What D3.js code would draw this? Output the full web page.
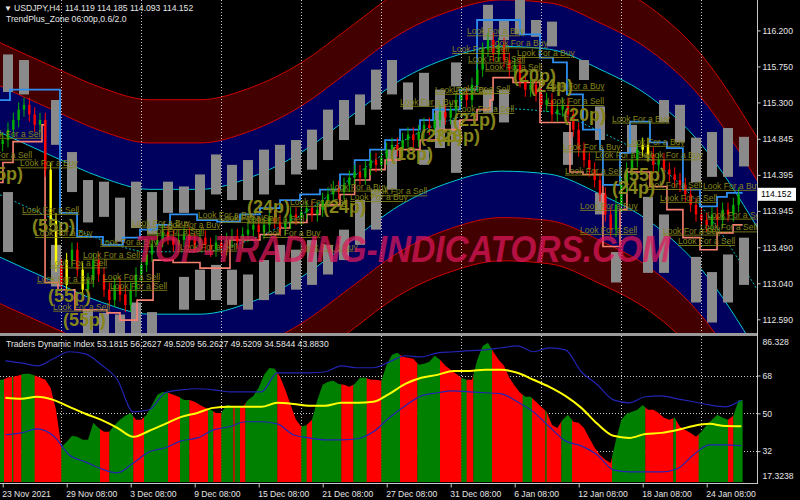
<!DOCTYPE html>
<html>
<head>
<meta charset="utf-8">
<script src="https://cdn.jsdelivr.net/npm/d3@7"></script>
<style>
  body { margin: 0; background: #000; }
  svg { display: block; }
  text { font-family: "Liberation Sans", Arial, sans-serif; }
</style>
</head>
<body>
<script>
// ---------- price panel data (USDJPY H4), one close per 2 bars ----------
const closes = [114.83, 114.96, 115.08, 115.21, 115.27, 115.15, 115.02, 115.08, 114.46, 113.83,
  113.27, 113.02, 113.33, 113.46, 113.21, 112.96, 113.08, 113.33, 113.15, 112.96,
  112.83, 113.02, 112.90, 112.77, 112.96, 113.15, 113.27, 113.40, 113.52, 113.58,
  113.68, 113.61, 113.52, 113.58, 113.65, 113.58, 113.52, 113.61, 113.52, 113.46,
  113.55, 113.48, 113.58, 113.63, 113.56, 113.65, 113.71, 113.77, 113.68, 113.77,
  113.86, 113.81, 113.73, 113.81, 113.90, 113.86, 113.93, 113.98, 113.90, 113.96,
  114.08, 114.15, 114.23, 114.18, 114.27, 114.36, 114.43, 114.36, 114.48, 114.58,
  114.52, 114.61, 114.71, 114.77, 114.71, 114.83, 114.90, 114.83, 114.93, 115.02,
  114.98, 115.08, 115.18, 115.11, 115.21, 115.33, 115.40, 115.33, 115.52, 115.71,
  115.96, 116.08, 115.90, 116.02, 115.83, 115.71, 115.77, 115.58, 115.46, 115.52,
  115.40, 115.27, 115.33, 115.15, 115.21, 115.27, 115.15, 114.96, 114.71, 114.58,
  114.46, 114.33, 114.15, 113.90, 113.71, 114.02, 114.27, 114.46, 114.58, 114.71,
  114.77, 114.65, 114.52, 114.58, 114.46, 114.40, 114.33, 114.27, 114.15, 114.02,
  113.90, 113.83, 113.77, 113.90, 113.83, 113.96, 113.90, 114.02, 114.15];
const yellowCandles = [9, 10, 12, 15, 120, 121];

// trailing step lines: bar where a level starts, and its price
const blueStart = [-1, 2.75, 21.5, 27.9, 37.6, 45.1, 51.5, 57.9, 62.75, 72.9, 80.4, 89, 96.5, 104, 111.5, 119, 126.5, 132, 137.75, 143.4, 149, 156.5, 161.4, 171.5, 177.9, 194, 201.5, 206.4, 211.6, 217.6, 224, 225.1, 231.5, 235.25, 242.75, 249.1, 255.1, 261.5, 267.9, 271.6];
const blueLevel = [115.33, 115.46, 113.92, 113.62, 113.52, 113.61, 113.71, 113.77, 113.90, 113.83, 113.81, 113.90, 113.98, 114.08, 114.15, 114.21, 114.40, 114.58, 114.71, 114.83, 114.96, 115.08, 115.21, 115.46, 116.33, 116.15, 115.86, 115.80, 115.40, 114.96, 114.71, 114.27, 114.67, 115.06, 114.80, 114.73, 114.21, 114.00, 114.12, 114.17];
const salmonStart = [-1, 0.1, 3.9, 14.75, 15.9, 20.75, 27.1, 39.1, 44, 50.4, 56.4, 63.9, 74, 85.25, 96.5, 104, 107.75, 114.1, 119, 126.5, 132, 137.75, 143.4, 149, 156.5, 164, 171.5, 177.9, 182.75, 183.9, 191.4, 201.5, 212.75, 217.6, 225.1, 231.5, 234.1, 242.75, 249.1, 255.1, 261.5, 267.9, 273.9];
const salmonLevel = [114.30, 114.55, 114.81, 115.02, 113.05, 112.96, 112.71, 112.67, 112.58, 112.83, 113.33, 113.30, 113.23, 113.58, 113.65, 113.73, 113.80, 113.90, 114.02, 114.15, 114.33, 114.46, 114.58, 114.71, 114.83, 114.96, 115.08, 115.21, 115.33, 115.61, 115.55, 115.05, 114.43, 114.40, 113.50, 113.96, 114.43, 114.25, 113.96, 113.61, 113.46, 113.67, 113.77];

// zone channel: mid line sampled at bars, band half-widths in price
const bandBars = [-1, 18, 37, 55, 74, 93, 112, 130, 149, 168, 187, 205, 224, 243, 262, 283];
const bandMid = [114.146, 113.859, 113.584, 113.434, 113.434, 113.584, 113.896, 114.334, 114.796, 115.084, 115.221, 115.184, 114.934, 114.584, 113.996, 112.959];
const cyanOffset = 0.78;
const innerOffset = 1.36;
const outerOffset = 1.90;

// gray zone boxes per day column k: [k, high, low]
const upperBoxes = [[0,115.90,115.43],[1,115.83,115.40],[3,115.33,114.77],[4,114.68,114.18],[5,114.33,113.80],
  [6,114.31,113.87],[7,114.11,113.56],[8,114.31,113.73],[9,114.18,113.65],[10,114.31,113.92],[11,114.25,113.92],
  [12,114.40,113.96],[13,114.65,114.15],[14,114.52,114.08],[15,114.58,114.08],[16,114.71,114.15],[17,114.77,114.27],
  [18,114.83,114.40],[19,114.96,114.46],[20,115.21,114.58],[21,115.33,114.83],[22,115.40,115.02],[23,115.71,115.21],
  [24,115.83,115.40],[25,115.55,115.21],[26,115.67,115.25],[27,115.46,115.08],[28,115.80,115.50],[30,116.52,116.08],
  [31,116.33,116.08],[32,116.58,116.15],[33,116.33,116.12],[34,116.31,116.00],[36,115.83,115.58],[37,115.25,114.83],
  [39,115.02,114.67],[41,115.33,115.05],[42,115.27,114.80],[43,114.86,114.30],[44,114.93,114.37],[45,114.98,114.37],[46,114.87,114.50]];
const lowerBoxes = [[0,114.18,113.43],[3,113.52,113.00],[5,112.71,112.33],[6,112.67,112.33],[7,112.65,112.33],
  [8,112.80,112.33],[9,112.68,112.33],[11,113.12,112.71],[12,113.21,112.83],[13,113.27,112.83],[14,113.21,112.77],
  [15,113.15,112.71],[16,113.33,112.83],[17,113.52,112.90],[18,113.46,112.96],[19,113.58,113.02],[20,113.52,113.15],
  [21,113.71,113.33],[22,114.08,113.52],[23,114.21,113.71],[24,114.71,114.21],[26,114.71,114.52],[27,115.12,114.73],
  [28,115.08,114.42],[30,115.46,115.17],[31,115.46,115.05],[35,114.93,114.52],[37,114.17,113.90],[38,113.43,113.05],
  [40,114.12,113.17],[41,113.90,113.17],[43,113.37,112.80],[44,113.18,112.55],[45,113.40,112.80],[46,113.61,113.02]];

// signal labels: [bar, price, text]
const signals = [
  [-6.6,114.87,"Look For a Sell"],[-10.4,114.60,"Look For a Sell"],[6.5,114.50,"Look For a Buy"],[-8.5,114.33,"(55p)"],
  [7.25,113.92,"Look For a Sell"],[11,113.68,"(55p)"],[12.1,113.63,"Look For a Buy"],[36.5,113.52,"Look For a Buy"],
  [30.1,113.36,"Look For a Sell"],[17.75,113.25,"Look For a Sell"],[12.9,113.06,"Look For a Sell"],[37.6,113.08,"Look For a Sell"],
  [40.25,112.97,"Look For a Sell"],[17,112.81,"(55p)"],[18.9,112.71,"Look For a Sell"],[22.6,112.50,"(55p)"],
  [48.5,113.76,"Look For a Buy"],[54.1,113.66,"Look For a Sell"],[60.1,113.73,"Look For a Buy"],[73.25,113.86,"Look For a Buy"],
  [81.5,113.82,"Look For a Sell"],[91.6,113.81,"Look For a Sell"],[91.6,113.92,"(24p)"],[97.6,113.63,"Look For a Buy"],
  [120.1,113.92,"(24p)"],[107.75,114.02,"Look For a Sell"],[122.75,114.21,"Look For a Buy"],[66.5,113.46,"Look For a Sell"],
  [149,115.27,"Look For a Buy"],[170.4,115.18,"Look For a Sell"],[162.1,115.42,"Look For a Buy"],[168.9,115.43,"Look For a Sell"],
  [168.9,115.00,"(21p)"],[156.5,114.80,"(23p)"],[162.9,114.80,"(26p)"],[145.25,114.58,"(18p)"],
  [174.1,116.15,"Look For a Buy"],[168.5,115.93,"Look For a Sell"],[174.5,115.81,"Look For a Sell"],[180.9,115.71,"Look For a Sell"],
  [182.75,116.00,"Look For a Buy"],[192.9,115.88,"Look For a Buy"],[191.4,115.56,"(20p)"],[197.75,115.43,"(24p)"],
  [204.1,115.47,"Look For a Buy"],[204.1,115.28,"Look For a Sell"],[210.1,115.07,"(20p)"],[228.5,115.06,"Look For a Buy"],
  [210.1,114.70,"Look For a Buy"],[234.1,114.77,"Look For a Buy"],[222.1,114.60,"Look For a Sell"],[240.9,114.60,"Look For a Buy"],
  [210.9,114.41,"Look For a Sell"],[232.6,114.32,"(55p)"],[228.5,114.16,"(24p)"],[240.9,114.23,"Look For a Sell"],
  [262.6,114.22,"Look For a Buy"],[246.5,114.07,"Look For a Sell"],[264.1,113.86,"Look For a Sell"],[216.5,113.97,"Look For a Buy"],
  [216.5,113.67,"Look For a Sell"],[247.6,113.66,"Look For a Sell"],[253.25,113.53,"Look For a Sell"],[261.5,113.70,"Look For a Sell"],
  [111.5,113.46,"Look For a Buy"],[137.75,114.15,"Look For a Sell"],[130.25,114.08,"Look For a Buy"]];

// ---------- Traders Dynamic Index data ----------
const tdiHist = [66, 67, 67.4, 68, 68.8, 68.8, 68, 67, 66, 62,
  51.7, 34, 36.4, 39.3, 38.8, 37.4, 37.4, 45.5, 43, 41.2,
  41.2, 44.5, 47, 48.8, 50.2, 47, 47, 49.3, 54, 58.8,
  60.2, 59.8, 58.8, 57.9, 56.4, 56.4, 55.5, 54, 52.6, 51.7,
  50.2, 50.2, 54, 53.5, 53, 53, 56.4, 58.3, 62.2, 68.3,
  71.6, 71.2, 67.4, 61.2, 54, 47, 43.6, 44.5, 47, 56.4,
  63.6, 65, 65.5, 64, 63.6, 62.6, 64, 66.9, 66.9, 66,
  66, 65.5, 73.1, 77.9, 78.8, 76.9, 76.4, 76, 73.1, 73.6,
  74.5, 77.4, 75.5, 72.6, 70.7, 68.8, 66.9, 66, 66, 75.5,
  82.1, 83.6, 79.3, 75.5, 72.6, 66.9, 63.1, 59.8, 57.9, 57.9,
  55.5, 53, 50.7, 44.5, 43, 47, 49.3, 46, 45.5, 43,
  38.3, 33.6, 30.2, 27.9, 26.4, 37.4, 47, 49.8, 50.7, 51.7,
  54, 51.7, 51.7, 50.2, 47.9, 46.9, 47.9, 43.6, 42.1, 40.7,
  38.8, 41.2, 44.5, 46.9, 49.3, 47.9, 46.9, 48.8, 56.4];
// colour runs start bars, alternating green / red, last entry is the end
const tdiRuns = [-1, 0.5, 3.5, 4, 7, 12, 22, 36.5, 40, 49, 53, 62, 66.5, 70, 77, 79, 82, 86.5, 87, 89, 91, 103, 112, 114, 116, 127, 131.5, 136.5, 142, 149, 155.5, 164, 172, 174, 176.5, 183.5, 195, 198.5, 203.5, 204, 209.5, 213.5, 228.5, 241, 251.5, 252.5, 261, 272, 274, 277.5];
// lines sampled every 6 bars
const tdiSignal = [57.4, 56.9, 57.9, 56.4, 53.1, 49.8, 46.9, 43.1, 38.8, 41.7, 45.0, 48.3, 50.2, 52.6, 53.1, 53.1, 53.1, 55.0, 54.5, 53.6, 53.6, 55.0, 55.0, 55.5, 59.3, 64.0, 66.9, 68.3, 70.2, 70.2, 70.7, 70.7, 69.3, 66.0, 62.6, 58.3, 52.6, 45.0, 39.3, 38.3, 40.2, 40.7, 42.1, 44.0, 45.0, 44.0, 43.9];
const tdiUpper = [75.0, 74.0, 72.6, 76.0, 79.3, 78.3, 73.1, 66.0, 50.7, 51.7, 59.8, 61.2, 61.7, 61.2, 60.2, 60.2, 60.2, 69.3, 69.3, 69.3, 69.8, 72.6, 71.7, 71.7, 74.5, 77.4, 76.9, 78.8, 79.3, 79.8, 80.2, 81.2, 82.1, 79.3, 81.2, 80.2, 69.8, 63.6, 56.4, 55.0, 57.9, 58.3, 56.9, 55.5, 54.0, 53.1, 56.3];
const tdiLower = [39.8, 40.7, 42.6, 39.3, 30.2, 26.9, 23.6, 21.7, 26.4, 31.7, 33.6, 36.9, 38.3, 42.1, 43.6, 46.0, 46.0, 45.0, 39.8, 38.3, 37.4, 37.4, 37.9, 41.2, 47.9, 53.6, 58.3, 59.8, 60.7, 60.2, 59.8, 59.3, 55.5, 50.7, 43.6, 36.9, 34.5, 30.2, 23.1, 22.1, 22.1, 22.1, 23.6, 30.2, 35.0, 35.0, 34.6];

// ---------- axes ----------
const priceTicks = [116.200, 115.750, 115.300, 114.845, 114.395, 113.945, 113.490, 113.040, 112.590];
const tdiTicks = [86.328, 68, 50, 32, 17.3238];
const tdiTickText = ["86.328", "68", "50", "32", "17.3238"];
const dateBars = [0, 24, 48, 72, 96, 120, 144, 168, 192, 216, 240, 264];
const dateLabels = ["23 Nov 2021", "29 Nov 08:00", "3 Dec 08:00", "9 Dec 08:00", "15 Dec 08:00", "21 Dec 08:00",
  "27 Dec 08:00", "31 Dec 08:00", "6 Jan 08:00", "12 Jan 08:00", "18 Jan 08:00", "24 Jan 08:00"];
const gridBars = [22, 52, 82, 112, 142, 172, 202, 232, 262];
const lastPrice = 114.152;

// ---------- scales ----------
const plotW = 757;
const x = d3.scaleLinear().domain([-1, 283]).range([0, 757.33]);
const yP = d3.scaleLinear().domain([112.425, 116.58]).range([332.5, 0]);
const yT = d3.scaleLinear().domain([17.3238, 86.328]).range([482, 337]);

const svg = d3.select("body").append("svg").attr("width", 800).attr("height", 500);
svg.append("rect").attr("width", 800).attr("height", 500).attr("fill", "#000");

const defs = svg.append("defs");
defs.append("clipPath").attr("id", "clipMain").append("rect").attr("width", plotW).attr("height", 333);
defs.append("clipPath").attr("id", "clipTdi").append("rect").attr("y", 336).attr("width", plotW).attr("height", 147);

const main = svg.append("g").attr("clip-path", "url(#clipMain)");

// channel bands
const band = bandBars.map((b, i) => ({ b: b, m: bandMid[i] }));
function bandArea(a, c) {
  return d3.area().curve(d3.curveMonotoneX).x(d => x(d.b)).y0(d => yP(d.m + a)).y1(d => yP(d.m + c));
}
function bandLine(off) {
  return d3.line().curve(d3.curveMonotoneX).x(d => x(d.b)).y(d => yP(d.m + off));
}
main.append("path").datum(band).attr("d", bandArea(innerOffset, outerOffset)).attr("fill", "#430000");
main.append("path").datum(band).attr("d", bandArea(-innerOffset, -outerOffset)).attr("fill", "#430000");
main.append("path").datum(band).attr("d", bandArea(cyanOffset, innerOffset)).attr("fill", "#00005e");
main.append("path").datum(band).attr("d", bandArea(-cyanOffset, -innerOffset)).attr("fill", "#00005e");
[outerOffset, innerOffset, -innerOffset, -outerOffset].forEach(o => {
  main.append("path").datum(band).attr("d", bandLine(o)).attr("fill", "none").attr("stroke", "#d00000").attr("stroke-width", 1);
});
[cyanOffset, -cyanOffset].forEach(o => {
  main.append("path").datum(band).attr("d", bandLine(o)).attr("fill", "none").attr("stroke", "#00c8d8").attr("stroke-width", 1);
});
main.append("path").datum(band).attr("d", bandLine(0)).attr("fill", "none").attr("stroke", "#00b8c8")
  .attr("stroke-width", 1).attr("stroke-dasharray", "2,2");

// vertical grid
svg.append("g").selectAll("line").data(gridBars).enter().append("line")
  .attr("x1", d => Math.round(x(d)) + 0.5).attr("x2", d => Math.round(x(d)) + 0.5)
  .attr("y1", 0).attr("y2", 483)
  .attr("stroke", "#c8c8c8").attr("stroke-dasharray", "1,2");

// gray zone boxes
function drawBoxes(list) {
  main.append("g").selectAll("rect").data(list).enter().append("rect")
    .attr("x", d => x(6 * d[0] + 2) - 5)
    .attr("width", 10)
    .attr("y", d => yP(d[1]))
    .attr("height", d => yP(d[2]) - yP(d[1]))
    .attr("fill", "#8a8a8a");
}
drawBoxes(upperBoxes);
drawBoxes(lowerBoxes);

// step lines
function stepPoints(starts, levels) {
  const pts = starts.map((s, i) => [s, levels[i]]);
  pts.push([277.5, levels[levels.length - 1]]);
  return pts;
}
const stepLine = d3.line().curve(d3.curveStepAfter).x(d => x(d[0])).y(d => yP(d[1]));
main.append("path").datum(stepPoints(salmonStart, salmonLevel)).attr("d", stepLine)
  .attr("fill", "none").attr("stroke", "#fa8072").attr("stroke-width", 1.6);
main.append("path").datum(stepPoints(blueStart, blueLevel)).attr("d", stepLine)
  .attr("fill", "none").attr("stroke", "#2e8ff0").attr("stroke-width", 1.8);

// candles
const wick = 0.09;
const candles = closes.map((c, i) => {
  const o = i === 0 ? c - 0.05 : closes[i - 1];
  return { bar: 2 * i, o: o, c: c, h: Math.max(o, c) + wick, l: Math.min(o, c) - wick, i: i };
});
function candleColor(d) {
  if (yellowCandles.includes(d.i)) return "#ffff00";
  return d.c >= d.o ? "#00b000" : "#ff0000";
}
const cg = main.append("g");
cg.selectAll("line").data(candles).enter().append("line")
  .attr("x1", d => x(d.bar)).attr("x2", d => x(d.bar))
  .attr("y1", d => yP(d.h)).attr("y2", d => yP(d.l))
  .attr("stroke", candleColor).attr("stroke-width", 1);
cg.selectAll("rect").data(candles).enter().append("rect")
  .attr("x", d => x(d.bar) - 1.2).attr("width", 2.4)
  .attr("y", d => yP(Math.max(d.o, d.c)))
  .attr("height", d => Math.max(1, Math.abs(yP(d.o) - yP(d.c))))
  .attr("fill", candleColor);

// signal labels
main.append("g").selectAll("text").data(signals).enter().append("text")
  .attr("x", d => x(d[0])).attr("y", d => yP(d[1]))
  .attr("fill", "#85851a")
  .attr("font-size", d => d[2][0] === "(" ? 18 : 8.5)
  .attr("font-weight", d => d[2][0] === "(" ? "bold" : "normal")
  .attr("text-decoration", d => d[2][0] === "(" ? "none" : "underline")
  .text(d => d[2]);

// watermark
svg.append("text").attr("x", 135).attr("y", 262)
  .attr("font-family", "DejaVu Sans, sans-serif").attr("font-size", 37)
  .attr("font-weight", "bold").attr("font-style", "italic")
  .attr("textLength", 535).attr("lengthAdjust", "spacingAndGlyphs")
  .attr("fill", "#e0185c").attr("opacity", 0.72)
  .text("TOP-TRADING-INDICATORS.COM");

// ---------- TDI panel ----------
const tdi = svg.append("g").attr("clip-path", "url(#clipTdi)");
[68, 50, 32].forEach(v => {
  tdi.append("line").attr("x1", 0).attr("x2", plotW)
    .attr("y1", Math.round(yT(v)) + 0.5).attr("y2", Math.round(yT(v)) + 0.5)
    .attr("stroke", "#c8c8c8").attr("stroke-dasharray", "1,2");
});
const histPts = tdiHist.map((v, i) => [2 * i, v]);
histPts.unshift([-1, tdiHist[0]]);
histPts.push([277.5, tdiHist[tdiHist.length - 1]]);
const histArea = d3.area().x(d => x(d[0])).y0(yT(17.3238)).y1(d => yT(d[1]));
defs.append("clipPath").attr("id", "clipHist").append("path").attr("d", histArea(histPts));
const runs = tdi.append("g").attr("clip-path", "url(#clipHist)");
for (let i = 0; i < tdiRuns.length - 1; i++) {
  runs.append("rect")
    .attr("x", x(tdiRuns[i])).attr("width", x(tdiRuns[i + 1]) - x(tdiRuns[i]) + 0.3)
    .attr("y", 336).attr("height", 150)
    .attr("fill", i % 2 === 0 ? "#008000" : "#ff0000");
}
const tdiLine = d3.line().curve(d3.curveMonotoneX).x((d, i) => x(6 * i + 1)).y(d => yT(d));
tdi.append("path").datum(tdiUpper).attr("d", tdiLine).attr("fill", "none").attr("stroke", "#2323b4").attr("stroke-width", 1.2);
tdi.append("path").datum(tdiLower).attr("d", tdiLine).attr("fill", "none").attr("stroke", "#2323b4").attr("stroke-width", 1.2);
tdi.append("path").datum(tdiSignal).attr("d", tdiLine).attr("fill", "none").attr("stroke", "#ffff00").attr("stroke-width", 2);

// ---------- frame, axes, texts ----------
svg.append("rect").attr("x", 0).attr("y", 333).attr("width", plotW + 1).attr("height", 3).attr("fill", "#9a9a9a");
svg.append("line").attr("x1", plotW + 0.5).attr("x2", plotW + 0.5).attr("y1", 0).attr("y2", 484).attr("stroke", "#c8c8c8");
svg.append("line").attr("x1", 0).attr("x2", plotW + 1).attr("y1", 483.5).attr("y2", 483.5).attr("stroke", "#c8c8c8");

const axisFont = g => g.selectAll("text").attr("fill", "#e6e6e6").attr("font-size", 8.6)
  .attr("font-family", "Liberation Sans, Arial, sans-serif");

const pAxis = svg.append("g").attr("transform", `translate(${plotW + 0.5},0)`)
  .call(d3.axisRight(yP).tickValues(priceTicks).tickFormat(d3.format(".3f")).tickSize(3).tickPadding(2));
pAxis.select(".domain").remove();
pAxis.selectAll("line").attr("stroke", "#c8c8c8");
axisFont(pAxis);

const tAxis = svg.append("g").attr("transform", `translate(${plotW + 0.5},0)`)
  .call(d3.axisRight(yT).tickValues(tdiTicks).tickFormat((d, i) => tdiTickText[i]).tickSize(3).tickPadding(2));
tAxis.select(".domain").remove();
tAxis.selectAll("line").attr("stroke", "#c8c8c8");
tAxis.selectAll(".tick").filter((d, i) => i === 0).select("text").attr("dy", "0.9em");
tAxis.selectAll(".tick").filter((d, i) => i === 4).select("text").attr("dy", "-0.4em");
tAxis.selectAll(".tick").filter((d, i) => i === 0 || i === 4).select("line").remove();
axisFont(tAxis);

const xAxis = svg.append("g").attr("transform", "translate(0,483.5)")
  .call(d3.axisBottom(x).tickValues(dateBars).tickFormat((d, i) => dateLabels[i]).tickSize(4).tickPadding(3));
xAxis.select(".domain").remove();
xAxis.selectAll("line").attr("stroke", "#c8c8c8");
xAxis.selectAll("text").attr("text-anchor", "start").attr("dx", "-1");
axisFont(xAxis);

// current price tag
svg.append("rect").attr("x", plotW + 1).attr("y", yP(lastPrice) - 6.5).attr("width", 38).attr("height", 13).attr("fill", "#ffffff");
svg.append("text").attr("x", plotW + 4).attr("y", yP(lastPrice) + 3.2).attr("font-size", 8.6).attr("fill", "#000").text(lastPrice.toFixed(3));

// headers
svg.append("text").attr("x", 4).attr("y", 11).attr("font-size", 8).attr("fill", "#e6e6e6").text("\u25BC");
svg.append("text").attr("x", 14).attr("y", 11).attr("font-size", 8.6).attr("fill", "#e6e6e6")
  .attr("xml:space", "preserve").text("USDJPY,H4  114.119 114.185 114.093 114.152");
svg.append("text").attr("x", 6).attr("y", 22).attr("font-size", 8.6).attr("fill", "#e6e6e6")
  .text("TrendPlus_Zone 06:00p,0.6/2.0");
svg.append("text").attr("x", 6).attr("y", 347).attr("font-size", 8.6).attr("fill", "#e6e6e6")
  .text("Traders Dynamic Index 53.1815 56.2627 49.5209 56.2627 49.5209 34.5844 43.8830");
</script>
</body>
</html>
